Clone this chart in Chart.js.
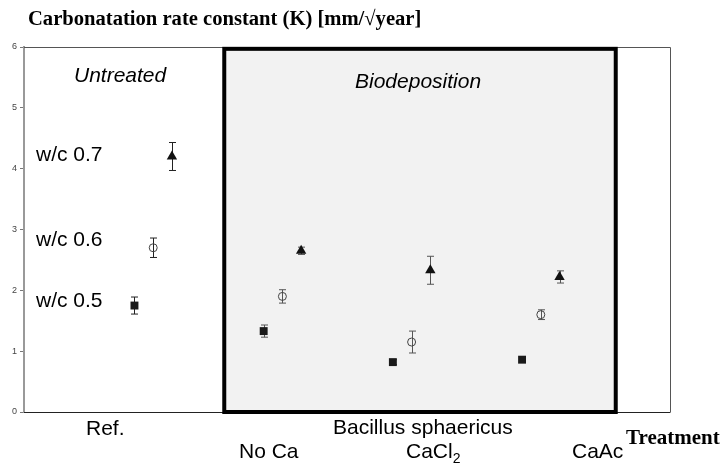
<!DOCTYPE html>
<html>
<head>
<meta charset="utf-8">
<script src="https://cdn.jsdelivr.net/npm/chart.js@4"></script>
<style>
  html, body { margin: 0; padding: 0; background: #fff; }
  #wrap { width: 721px; height: 466px; }
</style>
</head>
<body>
<div id="wrap"><canvas id="grafico"></canvas></div>
<script>
// treatment groups, placed at x = 1..4
const grupos = [1, 2, 3, 4];
const tratamientos = ['Ref.', 'No Ca', 'CaCl', 'CaAc'];
const yTicks = [0, 1, 2, 3, 4, 5, 6];

// carbonatation rate constant K [mm/sqrt(year)] and error (+/-)
const wc05 = [1.75, 1.33, 0.82, 0.86];
const err05 = [0.14, 0.10, 0.04, 0.02];
const wc06 = [2.70, 1.90, 1.15, 1.60];
const err06 = [0.16, 0.11, 0.18, 0.08];
const wc07 = [4.20, 2.65, 2.33, 2.22];
const err07 = [0.23, 0.06, 0.23, 0.10];

const desfase = 0.145; // marker offset inside a group

function puntos(vals, errs, d){
	return vals.map((v, i) => ({x: grupos[i] + d, y: v, e: errs[i]}));
}

const fondoBio = {
	id: 'fondoBio',
	beforeDatasetsDraw(chart){
		const {ctx, chartArea: a, scales: {x, y}} = chart;
		ctx.save();
		// frame
		ctx.lineWidth = 1;
		ctx.strokeStyle = '#555';
		ctx.beginPath();
		ctx.moveTo(a.left, a.top + 0.5);
		ctx.lineTo(a.right + 0.5, a.top + 0.5);
		ctx.lineTo(a.right + 0.5, a.bottom);
		ctx.stroke();
		ctx.strokeStyle = '#222';
		ctx.beginPath();
		ctx.moveTo(a.left, a.bottom + 0.5);
		ctx.lineTo(a.right + 0.5, a.bottom + 0.5);
		ctx.stroke();
		// biodeposition box
		const x0 = x.getPixelForValue(1.55), x1 = x.getPixelForValue(4.58);
		const y0 = y.getPixelForValue(5.97), y1 = y.getPixelForValue(0);
		ctx.fillStyle = '#f2f2f2';
		ctx.fillRect(x0, y0, x1 - x0, y1 - y0);
		ctx.lineWidth = 4;
		ctx.strokeStyle = '#000';
		ctx.strokeRect(x0, y0, x1 - x0, y1 - y0);
		// error bars
		chart.data.datasets.forEach(ds => {
			ds.data.forEach(p => {
				if (!p.e) return;
				const px = Math.round(x.getPixelForValue(p.x)) + 0.5;
				const yt = y.getPixelForValue(p.y + p.e), yb = y.getPixelForValue(p.y - p.e);
				ctx.strokeStyle = p.x < 1.5 ? '#222' : '#555';
				ctx.lineWidth = 1;
				ctx.beginPath();
				ctx.moveTo(px, yt); ctx.lineTo(px, yb);
				ctx.moveTo(px - 3.5, yt); ctx.lineTo(px + 3.5, yt);
				ctx.moveTo(px - 3.5, yb); ctx.lineTo(px + 3.5, yb);
				ctx.stroke();
			});
		});
		ctx.restore();
	}
};

const textos = {
	id: 'textos',
	afterDraw(chart){
		const ctx = chart.ctx;
		ctx.save();
		ctx.fillStyle = '#000';
		ctx.textBaseline = 'middle';
		ctx.textAlign = 'left';
		ctx.font = 'bold 20.6px "Liberation Serif"';
		ctx.fillText('Carbonatation rate constant (K) [mm/\u221Ayear]', 28, 20);
		ctx.font = 'bold 21px "Liberation Serif"';
		ctx.fillText('Treatment', 626, 439);

		ctx.font = 'italic 21px "Liberation Sans"';
		ctx.fillText('Untreated', 74, 76);
		ctx.fillText('Biodeposition', 355, 82);

		ctx.font = '21px "Liberation Sans"';
		ctx.fillText('w/c 0.7', 36, 155);
		ctx.fillText('w/c 0.6', 36, 240);
		ctx.fillText('w/c 0.5', 36, 301);

		ctx.fillText(tratamientos[0], 86, 429);
		ctx.fillText('Bacillus sphaericus', 333, 428);
		ctx.fillText(tratamientos[1], 239, 452);
		ctx.fillText(tratamientos[2], 406, 452);
		const w = ctx.measureText(tratamientos[2]).width;
		ctx.font = '14px "Liberation Sans"';
		ctx.fillText('2', 406 + w, 459);
		ctx.font = '21px "Liberation Sans"';
		ctx.fillText(tratamientos[3], 572, 452);
		ctx.restore();
	}
};

const ctx = document.getElementById('grafico').getContext('2d');

new Chart(ctx, {
	type: 'scatter',
	data: {
		datasets: [{
			label: 'w/c 0.5',
			data: puntos(wc05, err05, -desfase),
			pointStyle: 'rect',
			pointRadius: 5.6,
			backgroundColor: '#1a1a1a',
			borderColor: '#1a1a1a',
			borderWidth: 0
		},
		{
			label: 'w/c 0.6',
			data: puntos(wc06, err06, 0),
			pointStyle: 'circle',
			pointRadius: 4,
			backgroundColor: 'rgba(0,0,0,0)',
			borderColor: '#444',
			borderWidth: 1
		},
		{
			label: 'w/c 0.7',
			data: puntos(wc07, err07, desfase),
			pointStyle: 'triangle',
			pointRadius: 6,
			backgroundColor: '#111',
			borderColor: '#111',
			borderWidth: 0
		}]
	},
	options: {
		responsive: true,
		maintainAspectRatio: false,
		animation: false,
		layout: {
			padding: {left: 9, right: 51, top: 47, bottom: 54}
		},
		plugins: {
			legend: {display: false},
			tooltip: {enabled: false}
		},
		scales: {
			x: {
				type: 'linear',
				min: 0,
				max: 5,
				display: false
			},
			y: {
				type: 'linear',
				min: 0,
				max: 6,
				afterBuildTicks(axis){
					axis.ticks = yTicks.map(v => ({value: v}));
				},
				ticks: {
					color: '#444',
					padding: 3,
					font: {size: 9, family: 'Liberation Sans'}
				},
				grid: {
					drawOnChartArea: false,
					drawTicks: true,
					tickLength: 4,
					color: '#777'
				},
				border: {display: true, color: '#999', width: 2}
			}
		}
	},
	plugins: [fondoBio, textos]
});
</script>
</body>
</html>
